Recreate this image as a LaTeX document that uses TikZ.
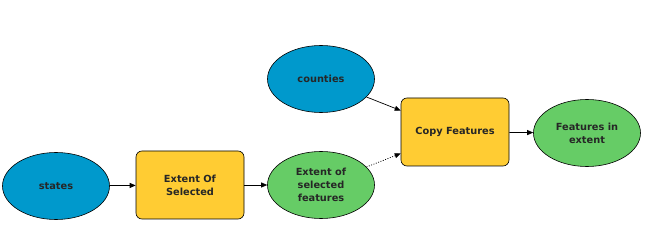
\documentclass[tikz,border=0pt]{standalone}
\usepackage{fontspec}
\setmainfont{DejaVu Sans}
\usetikzlibrary{shapes.geometric,arrows.meta}
\definecolor{dsblue}{HTML}{0099CC}
\definecolor{toolyellow}{HTML}{FFCC33}
\definecolor{dsgreen}{HTML}{66CC66}
\tikzset{
  every node/.style={font=\bfseries\fontsize{9.8}{13}\selectfont, text=black!85, align=center},
  inputdata/.style={ellipse, draw=black, line width=0.6pt, fill=dsblue, minimum width=107pt, minimum height=67pt, inner sep=0pt},
  outdata/.style={ellipse, draw=black, line width=0.6pt, fill=dsgreen, minimum width=107pt, minimum height=67pt, inner sep=0pt},
  toolbox/.style={rectangle, rounded corners=6pt, draw=black, line width=0.6pt, fill=toolyellow, minimum width=108pt, minimum height=68pt, inner sep=0pt},
  conn/.style={line width=0.7pt, -{Triangle[length=6pt,width=5pt]}},
  dotconn/.style={conn, dash pattern=on 1pt off 1.5pt},
}
\begin{document}
\begin{tikzpicture}[x=1pt,y=-1pt]
\useasboundingbox (0,0) rectangle (648,248);
\node[inputdata] (states) at (56,186) {states};
\node[toolbox] (extsel) at (190,185) {Extent Of\\Selected};
\node[outdata] (extfeat) at (321,185) {Extent of\\selected\\features};
\node[inputdata] (counties) at (321,79) {counties};
\node[toolbox] (copy) at (455,132) {Copy Features};
\node[outdata] (featext) at (587,133) {Features in\\extent};
\draw[conn] (states) -- (extsel);
\draw[conn] (extsel) -- (extfeat);
\draw[conn] (counties) -- (copy);
\draw[dotconn] (extfeat) -- (copy);
\draw[conn] (copy) -- (featext);
\end{tikzpicture}
\end{document}
